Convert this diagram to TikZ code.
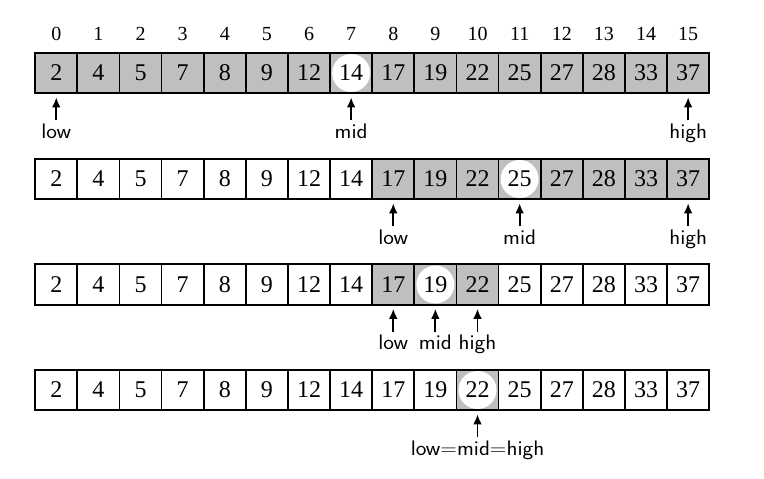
\documentclass[tikz,border=0pt]{standalone}
\usepackage{fontspec}
\setmainfont{Liberation Serif}
\newfontfamily\labfont{Latin Modern Sans}[FakeStretch=1.08]
\usetikzlibrary{arrows.meta,backgrounds}
\begin{document}
\begin{tikzpicture}[x=1pt,y=-1pt,
  cell/.style={draw,line width=1.8pt,minimum width=42.125pt,minimum height=40.5pt,
    inner sep=0pt,outer sep=0pt,font=\fontsize{24}{28}\selectfont},
  idx/.style={inner sep=0pt,anchor=base,font=\fontsize{20}{24}\selectfont},
  lab/.style={inner sep=2pt,anchor=base,font=\fontsize{21}{25}\labfont},
  shadec/.style={fill=black!25},
  ptr/.style={line width=1.8pt,-{Latex[length=10pt,width=8.5pt]},shorten >=4pt,shorten <=1pt}]
\useasboundingbox (0,0) rectangle (764,479);
% index numbers
\foreach \i in {0,...,15}
  \node[idx] (i\i) at ({35.2+(\i+0.5)*42.125},40) {\i};
% rows of cells
\foreach \r/\y in {1/73,2/179,3/284.5,4/390} {
  \foreach \v [count=\i from 0] in {2,4,5,7,8,9,12,14,17,19,22,25,27,28,33,37}
    \node[cell] (r\r-\i) at ({35.2+(\i+0.5)*42.125},\y) {\v};
}
\begin{scope}[on background layer]
  \foreach \i in {0,...,15}
    \fill[shadec] (r1-\i.south west) rectangle (r1-\i.north east);
  \foreach \i in {8,...,15}
    \fill[shadec] (r2-\i.south west) rectangle (r2-\i.north east);
  \foreach \i in {8,9,10}
    \fill[shadec] (r3-\i.south west) rectangle (r3-\i.north east);
  \fill[shadec] (r4-10.south west) rectangle (r4-10.north east);
  \fill[white] (r1-7) circle (19pt);
  \fill[white] (r2-11) circle (19pt);
  \fill[white] (r3-9) circle (19pt);
  \fill[white] (r4-10) circle (19pt);
\end{scope}
% row 1 pointers
\node[lab] (low1) at ({35.2+0.5*42.125},138) {low};
\node[lab] (mid1) at ({35.2+7.5*42.125},138) {mid};
\node[lab] (high1) at ({35.2+15.5*42.125},138) {high};
\draw[ptr] (low1.north) -- (r1-0.south);
\draw[ptr] (mid1.north) -- (r1-7.south);
\draw[ptr] (high1.north) -- (r1-15.south);
% row 2 pointers
\node[lab] (low2) at ({35.2+8.5*42.125},244) {low};
\node[lab] (mid2) at ({35.2+11.5*42.125},244) {mid};
\node[lab] (high2) at ({35.2+15.5*42.125},244) {high};
\draw[ptr] (low2.north) -- (r2-8.south);
\draw[ptr] (mid2.north) -- (r2-11.south);
\draw[ptr] (high2.north) -- (r2-15.south);
% row 3 pointers
\node[lab] (low3) at ({35.2+8.5*42.125},349.5) {low};
\node[lab] (mid3) at ({35.2+9.5*42.125},349.5) {mid};
\node[lab] (high3) at ({35.2+10.5*42.125},349.5) {high};
\draw[ptr] (low3.north) -- (r3-8.south);
\draw[ptr] (mid3.north) -- (r3-9.south);
\draw[ptr] (high3.north) -- (r3-10.south);
% row 4 pointer
\node[lab] (all4) at ({35.2+10.5*42.125},455) {low=mid=high};
\draw[ptr] (all4.north) -- (r4-10.south);
\end{tikzpicture}
\end{document}
